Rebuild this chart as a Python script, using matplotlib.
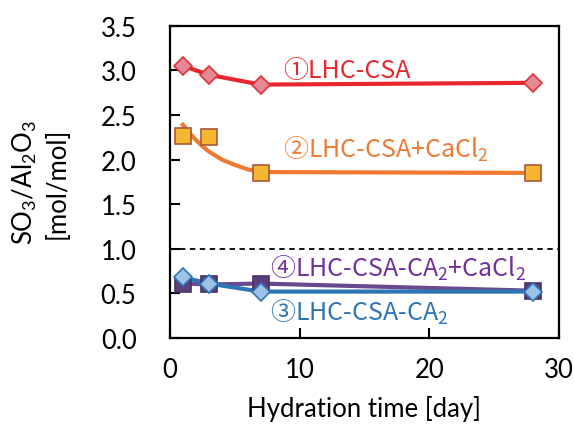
import matplotlib
matplotlib.use("Agg")
import matplotlib.pyplot as plt

plt.rcParams['font.family'] = ['Lato', 'DejaVu Sans']
plt.rcParams['mathtext.default'] = 'regular'

days = [1, 3, 7, 28]
s1 = [3.05, 2.95, 2.84, 2.86]   # LHC-CSA
s2 = [2.26, 2.25, 1.85, 1.85]   # LHC-CSA+CaCl2
s3 = [0.68, 0.61, 0.52, 0.52]   # LHC-CSA-CA2
s4 = [0.61, 0.60, 0.61, 0.53]   # LHC-CSA-CA2+CaCl2
trend2_x = [1, 1.5, 2, 2.5, 3, 4, 5, 6, 7, 28]
trend2_y = [2.39, 2.30, 2.22, 2.15, 2.09, 2.00, 1.94, 1.89, 1.86, 1.85]
ref_level = 1.0

labels = ['①LHC-CSA', '②LHC-CSA+CaCl$_2$', '③LHC-CSA-CA$_2$', '④LHC-CSA-CA$_2$+CaCl$_2$']
xticks = [0, 10, 20, 30]
yticks = [0.0, 0.5, 1.0, 1.5, 2.0, 2.5, 3.0, 3.5]

fig = plt.figure(figsize=(5.74, 4.31), dpi=100)
ax = fig.add_axes([0.296, 0.2135, 0.678, 0.7245])

ax.axhline(ref_level, color='black', lw=1.3, ls=(0, (3, 2.5)), zorder=1)

ax.plot(days, s1, color='#E8262D', lw=3, zorder=2)
ax.plot(days, s1, ls='none', marker='D', ms=9.5, mfc='#E58A93', mec='#E0303A', mew=1.2, zorder=5)

ax.plot(trend2_x, trend2_y, color='#F07A32', lw=3, zorder=2)
ax.plot(days, s2, ls='none', marker='s', ms=11.5, mfc='#F5B731', mec='#A9573A', mew=1.2, zorder=5)

ax.plot(days, s4, color='#6A4A8E', lw=3, zorder=2)
ax.plot(days, s4, ls='none', marker='s', ms=12, mfc='#5E3F7E', mec='#4A3066', mew=1.2, zorder=4)

ax.plot(days, s3, color='#2E75B6', lw=3, zorder=3)
ax.plot(days, s3, ls='none', marker='D', ms=9.5, mfc='#9DC3E6', mec='#2E75B6', mew=1.2, zorder=6)

lab_font = ['Noto Sans CJK JP', 'DejaVu Sans']
fs_lab = 18
ax.text(8.7, 3.0, labels[0], color='#E8262D', fontsize=fs_lab, family=lab_font, va='center', ha='left')
ax.text(8.7, 2.13, labels[1], color='#F07A32', fontsize=fs_lab, family=lab_font, va='center', ha='left')
ax.text(7.7, 0.30, labels[2], color='#2E75B6', fontsize=fs_lab, family=lab_font, va='center', ha='left')
ax.text(7.7, 0.79, labels[3], color='#7030A0', fontsize=fs_lab, family=lab_font, va='center', ha='left')

ax.set_xlim(0, 30)
ax.set_ylim(0, 3.5)
ax.set_xticks(xticks)
ax.set_yticks(yticks)
ax.set_yticklabels([f'{v:.1f}' for v in yticks])
ax.tick_params(direction='in', length=7, width=1.5, labelsize=18.5, top=False, right=False)
ax.tick_params(axis='y', pad=24)
ax.tick_params(axis='x', pad=14)
for sp in ax.spines.values():
    sp.set_linewidth(1.6)

ax.set_xlabel('Hydration time [day]', fontsize=18.5, labelpad=9)
ax.set_ylabel('SO$_3$/Al$_2$O$_3$\n[mol/mol]', fontsize=18.5, labelpad=22, linespacing=1.3)

fig.savefig('out.png', dpi=100)
